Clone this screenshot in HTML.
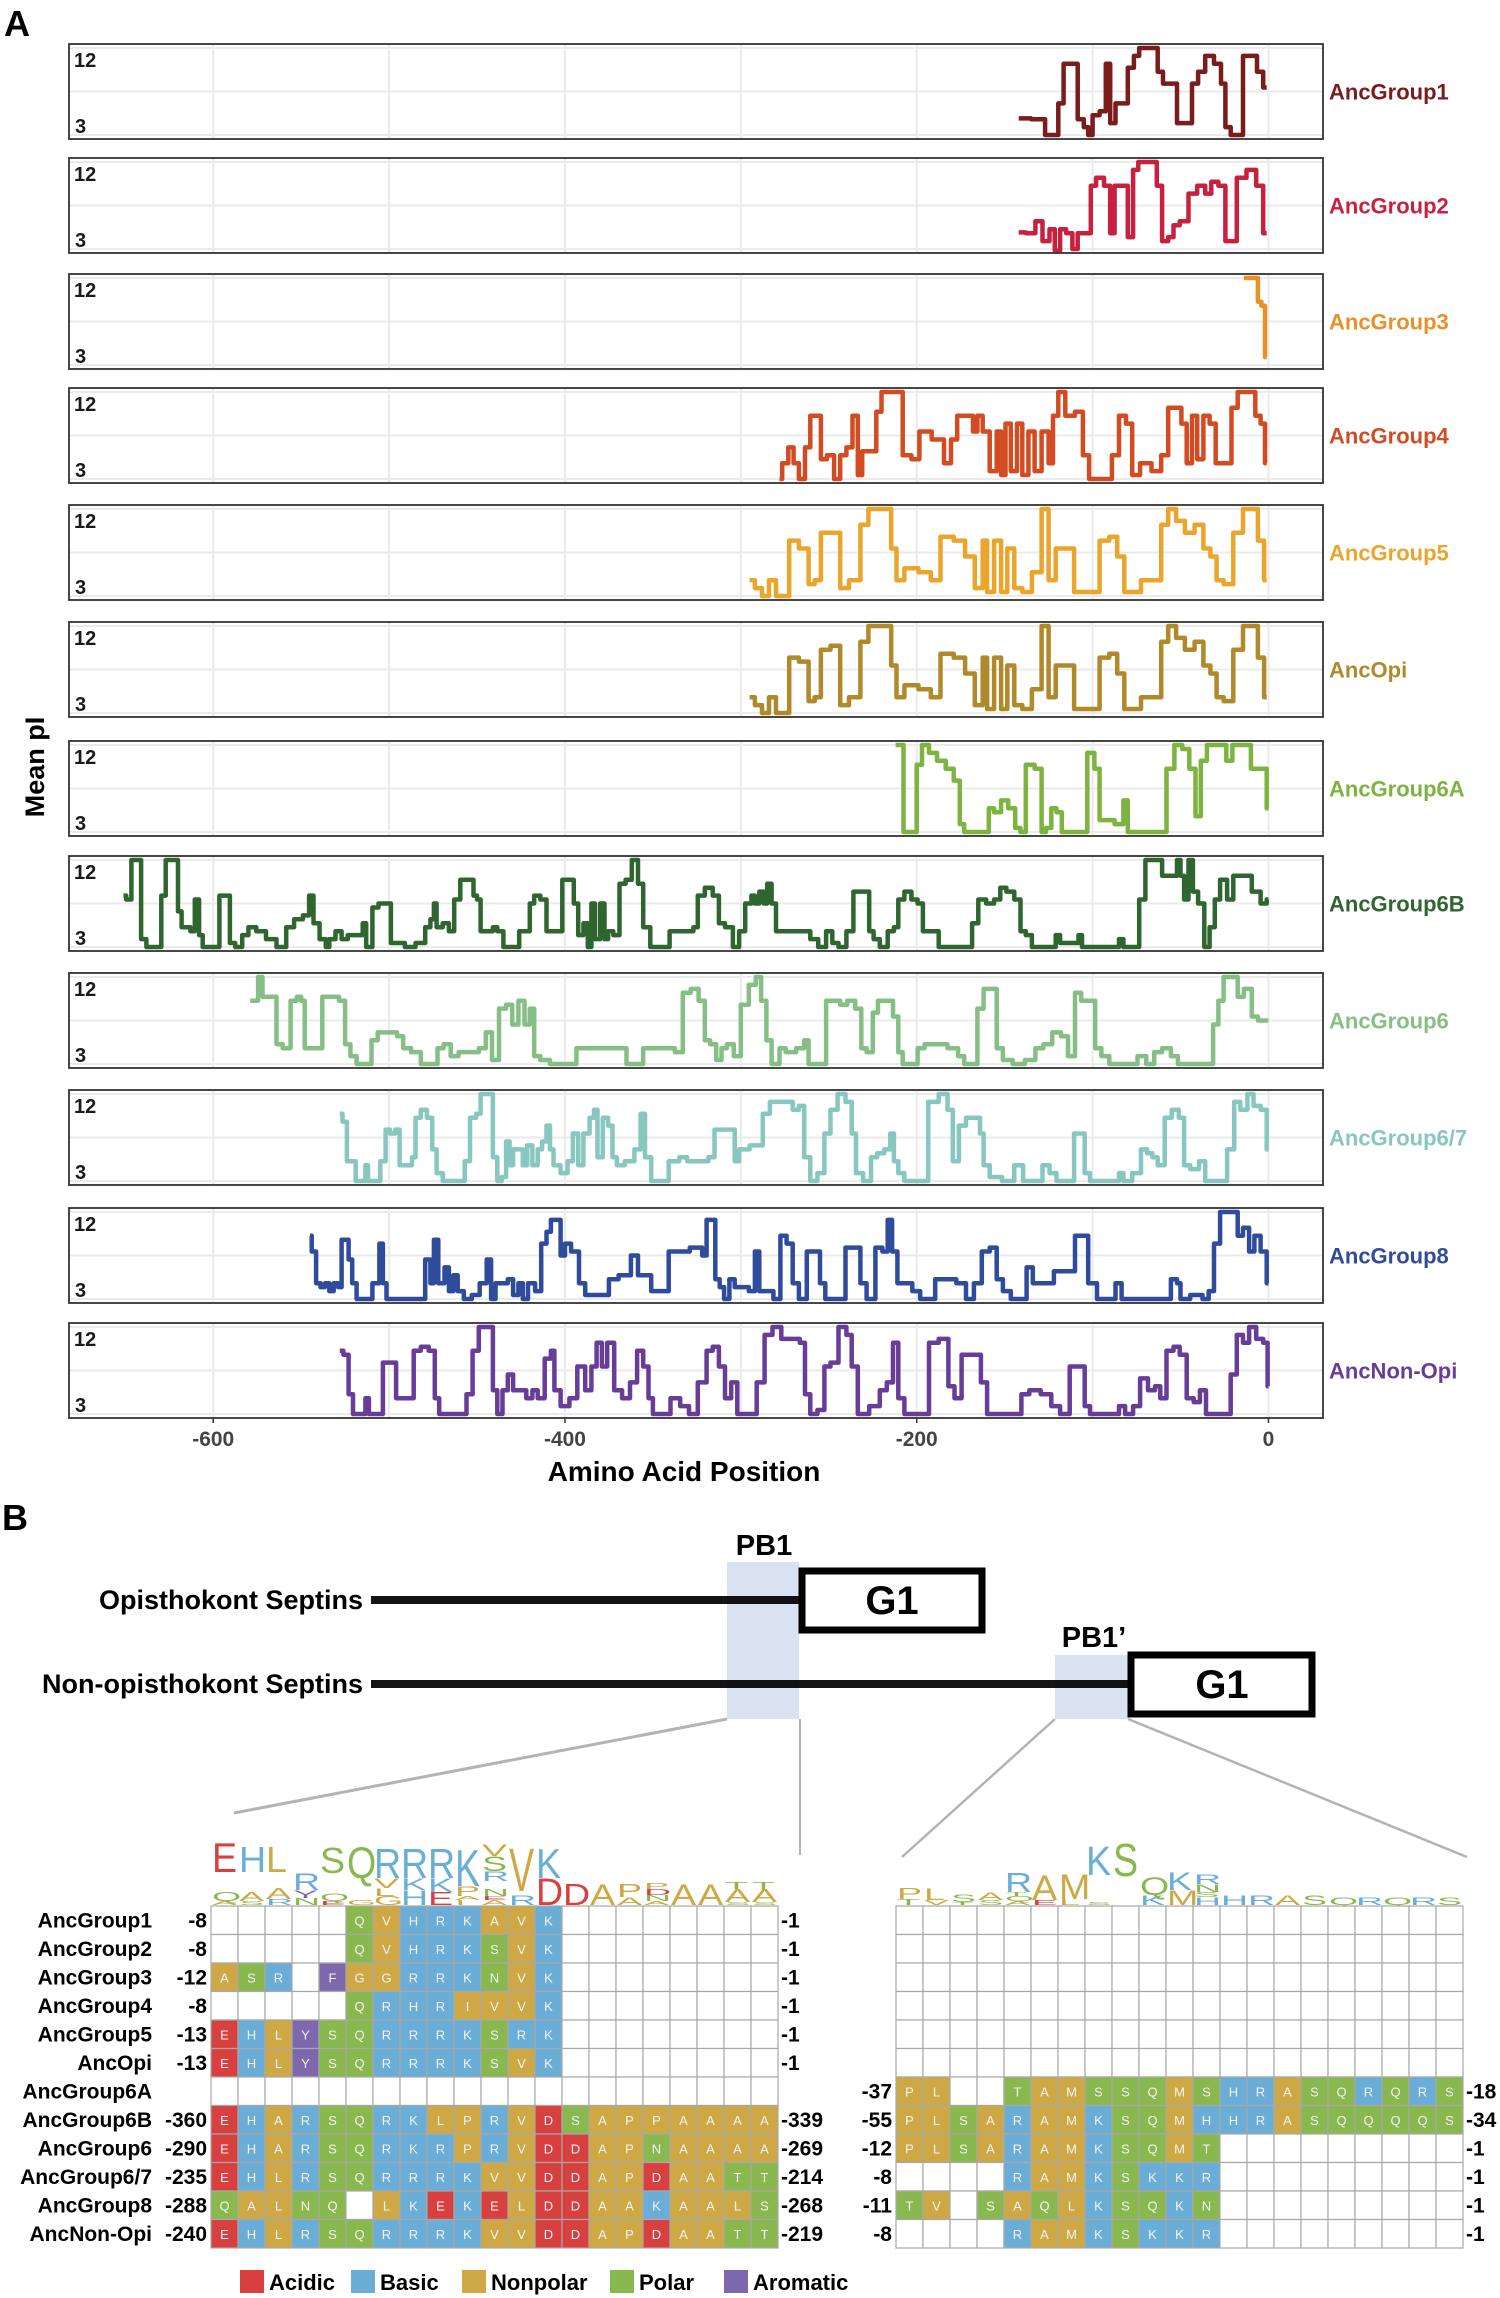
<!DOCTYPE html>
<html><head><meta charset="utf-8">
<style>
html,body{margin:0;padding:0;background:#fff;}
svg{display:block;font-family:"Liberation Sans",Arial,sans-serif;}
</style></head>
<body>
<svg id="fig" xmlns="http://www.w3.org/2000/svg" width="1500" height="2298" viewBox="0 0 1500 2298">
<rect x="0" y="0" width="1500" height="2298" fill="#fff"/>
<text x="4" y="36" font-size="36" font-weight="bold">A</text>
<g id="charts"></g>
<text transform="translate(44,767) rotate(-90)" text-anchor="middle" font-size="27" font-weight="bold">Mean pI</text>
<text x="684" y="1481" text-anchor="middle" font-size="28" font-weight="bold">Amino Acid Position</text>

<text x="2" y="1530" font-size="36" font-weight="bold">B</text>
<g>
<rect x="727" y="1562" width="72" height="157" fill="#d9e2f1"/>
<rect x="1055" y="1655" width="73" height="64" fill="#d9e2f1"/>
<text x="764" y="1555" text-anchor="middle" font-size="29" font-weight="bold">PB1</text>
<text x="1094" y="1647" text-anchor="middle" font-size="29" font-weight="bold">PB1’</text>
<text x="363" y="1609" text-anchor="end" font-size="27" font-weight="bold">Opisthokont Septins</text>
<rect x="371" y="1596" width="428" height="8" fill="#000" fill-opacity="0.92"/>
<rect x="802" y="1571" width="180" height="59" fill="#fff" stroke="#000" stroke-width="7"/>
<text x="892" y="1614" text-anchor="middle" font-size="40" font-weight="bold">G1</text>
<text x="363" y="1693" text-anchor="end" font-size="27" font-weight="bold">Non-opisthokont Septins</text>
<rect x="371" y="1680" width="757" height="8" fill="#000" fill-opacity="0.92"/>
<rect x="1131" y="1655" width="181" height="59" fill="#fff" stroke="#000" stroke-width="7"/>
<text x="1222" y="1698" text-anchor="middle" font-size="40" font-weight="bold">G1</text>
<line x1="727" y1="1719" x2="234" y2="1813" stroke="#b3b3b3" stroke-width="3"/>
<line x1="800" y1="1719" x2="800" y2="1855" stroke="#b3b3b3" stroke-width="2"/>
<line x1="1055" y1="1719" x2="902" y2="1857" stroke="#b3b3b3" stroke-width="2.5"/>
<line x1="1128" y1="1719" x2="1467" y2="1857" stroke="#b3b3b3" stroke-width="2.5"/>
</g>
<g id="align"></g>
<g id="legend"></g>
</svg>
<script>
// ===== Panel A data: [position, mean pI] =====
const seriesNames = ["AncGroup1","AncGroup2","AncGroup3","AncGroup4","AncGroup5","AncOpi","AncGroup6A","AncGroup6B","AncGroup6","AncGroup6/7","AncGroup8","AncNon-Opi"];
const seriesColors = ["#7a1c1c","#c8203f","#e8912b","#d24b22","#eaa52c","#b0892a","#7db43f","#2f6630","#86bf86","#88c6c0","#2f4b9c","#673d98"];
const ancGroup1 = [[-142,4.1],[-128,4],[-126,2],[-121,2],[-118,6],[-115,11],[-110,11],[-107,4],[-103,3],[-102,2],[-98,4.5],[-94,5],[-91,11],[-89,3.5],[-85,6],[-82,6],[-78,10.5],[-75,12],[-72,13],[-64,13],[-62,10],[-58,8.5],[-53,8.5],[-51,3.5],[-45,3.5],[-42,8.5],[-38,10],[-34,12],[-28,11],[-26,8.5],[-23,3],[-20,2],[-16,2],[-13,12],[-8,12],[-5,10],[-1,8]];
const ancGroup2 = [[-142,4.1],[-134,4],[-131,5.5],[-126,3],[-123,4.5],[-120,1.8],[-117,4.5],[-113,4],[-110,2],[-107,4],[-102,4],[-100,10],[-96,11],[-91,10],[-89,4],[-86,10],[-81,10],[-79,3.5],[-75,12],[-73,13],[-65,13],[-62,10],[-59,3],[-55,3.5],[-53,5],[-48,5.5],[-43,9],[-38,10],[-34,9],[-31,10.5],[-26,10],[-23,3],[-20,3],[-16,11],[-9,12],[-5,10],[-1,4]];
const ancGroup3 = [[-14,13],[-7,13],[-5,10],[-3,9.5],[-1,3]];
const ancGroup4 = [[-278,2],[-275,4],[-271,6],[-269,4],[-265,2],[-262,6],[-259,10],[-256,10],[-253,4.5],[-249,5],[-245,2],[-242,5],[-238,6],[-235,10],[-232,2.5],[-230,5.5],[-224,5.5],[-222,10.5],[-218,13],[-210,13],[-206,5],[-200,4.5],[-197,8],[-186,7],[-183,4],[-178,7],[-176,10],[-169,10],[-167,8],[-164,10],[-161,8],[-156,3],[-153,8],[-151,2.5],[-148,9],[-145,3],[-141,9],[-139,2.5],[-134,8],[-132,3],[-126,8],[-124,4],[-121,10],[-118,13],[-113,10],[-107,10.5],[-104,5],[-100,2],[-91,2],[-87,5],[-83,10],[-79,9],[-76,2.5],[-70,4],[-63,3],[-59,5],[-55,11],[-51,11],[-48,9],[-45,4],[-42,10],[-39,4.5],[-35,10],[-32,9],[-28,4],[-23,4],[-19,11],[-16,13],[-9,13],[-6,10],[-3,9],[-1,4]];
const ancGroup5 = [[-295,4],[-289,3],[-287,2],[-281,4],[-279,2],[-274,2],[-271,9],[-263,8],[-260,3.5],[-256,4],[-253,10],[-245,10],[-242,3],[-235,4],[-229,11],[-226,13],[-216,13],[-213,8],[-210,4],[-204,5.5],[-194,5],[-190,4],[-183,9.5],[-175,9],[-170,7],[-164,3],[-161,9],[-159,2.5],[-153,9],[-151,2.5],[-146,8],[-143,3],[-137,2.5],[-132,5],[-126,13],[-124,4],[-118,8],[-113,8],[-108,2.5],[-99,2.5],[-93,9],[-88,9.5],[-84,7],[-80,2.5],[-74,2.5],[-71,4],[-63,4],[-59,11],[-55,13],[-50,11.5],[-45,10],[-39,11],[-35,8],[-31,7],[-28,4],[-23,3.5],[-17,10],[-12,13],[-8,13],[-4,9],[-1,4]];
const ancOpi = [[-295,4],[-289,3],[-287,2],[-281,4],[-279,2],[-274,2],[-271,9],[-263,8.5],[-260,3.5],[-256,4],[-253,10],[-245,10.5],[-242,3],[-235,4],[-229,11],[-226,13],[-216,13],[-213,8],[-210,4],[-204,5.5],[-194,5],[-190,4],[-183,9.5],[-175,9],[-170,7],[-164,3],[-161,9],[-159,2.5],[-153,9],[-151,2.5],[-146,8],[-143,3],[-137,2.5],[-132,5],[-126,13],[-124,4],[-118,8],[-113,8],[-108,2.5],[-99,2.5],[-93,9],[-88,9.5],[-84,7],[-80,2.5],[-74,2.5],[-71,4],[-63,4],[-59,11],[-55,13],[-50,11.5],[-45,10],[-39,11],[-35,8],[-31,7],[-28,4],[-23,3.5],[-17,10],[-12,13],[-8,13],[-4,9],[-1,4]];
const ancGroup6A = [[-212,13],[-209,13],[-206,2],[-201,2],[-199,10.5],[-195,13],[-191,12],[-186,11],[-181,10],[-177,8.5],[-174,3],[-172,2],[-160,2],[-158,5],[-154,4.5],[-150,6],[-146,5],[-142,2.5],[-140,2],[-136,10.5],[-130,10],[-128,2],[-125,2.5],[-122,5],[-119,4.5],[-116,2],[-105,2],[-101,12],[-97,10],[-95,3.5],[-91,3.5],[-84,3],[-81,6],[-79,2],[-60,2],[-56,10],[-51,13],[-47,12.5],[-43,10],[-40,4],[-37,11],[-33,13],[-26,13],[-22,11],[-19,13],[-12,13],[-8,10],[-2,10],[0,5]];
const ancGroup6B = [[-651,8.5],[-648,8],[-645,13],[-642,13],[-640,3],[-636,2],[-631,2],[-628,8.5],[-626,13],[-621,13],[-619,6.5],[-617,4.5],[-614,4.5],[-612,4],[-609,8],[-607,3.5],[-605,2],[-598,2],[-595,8.5],[-592,8.5],[-589,2.5],[-586,2],[-581,3.5],[-579,4.5],[-572,4],[-568,3],[-560,2],[-557,4.5],[-551,5.5],[-547,6],[-544,8.5],[-542,5],[-537,3],[-535,2],[-533,3],[-528,4],[-526,3],[-521,3.5],[-516,3.5],[-514,5],[-512,2],[-507,7],[-505,7.5],[-500,7.5],[-498,2.5],[-493,2.5],[-489,2],[-481,2.5],[-478,4.5],[-475,5.5],[-474,7.5],[-472,4.5],[-467,5],[-465,4],[-461,8],[-458,10.5],[-453,10.5],[-451,8.5],[-449,8],[-447,4],[-442,4],[-440,4.5],[-437,4],[-433,2],[-428,2],[-424,4],[-421,4],[-419,7.5],[-416,8.5],[-412,8],[-409,4],[-403,4],[-400,10.5],[-396,10.5],[-394,7.5],[-391,3.5],[-388,5],[-386,2],[-384,7.5],[-382,3],[-378,7.5],[-377,3],[-374,4],[-371,3.5],[-367,10],[-364,10.5],[-360,13],[-357,10],[-354,4.5],[-349,2],[-342,2],[-339,4],[-336,4],[-328,4],[-326,4.5],[-323,8.5],[-318,9.5],[-314,8.5],[-311,5],[-307,4.5],[-302,2],[-300,4],[-295,7.5],[-293,8.5],[-291,7.5],[-288,9],[-286,7.5],[-284,10],[-281,7.5],[-279,4],[-274,4],[-268,4],[-263,4],[-258,3],[-254,2],[-249,4],[-247,2.5],[-242,2],[-238,4],[-234,9],[-228,9],[-226,4],[-223,3],[-219,2],[-214,4],[-212,4.5],[-209,8],[-205,9],[-201,8],[-198,7.5],[-195,4],[-189,4],[-186,2],[-170,2],[-167,5],[-163,8],[-158,7.5],[-154,8],[-151,9.5],[-147,9],[-142,8],[-140,4],[-136,3.5],[-133,2],[-122,2],[-120,3.5],[-117,2.5],[-109,2.5],[-107,3.5],[-105,2],[-86,2],[-84,3],[-81,2],[-75,2],[-72,8],[-68,13],[-63,13],[-58,11],[-53,11],[-51,13],[-49,11],[-47,8],[-44,13],[-42,9],[-38,7.5],[-35,2],[-32,4.5],[-29,8],[-26,10.5],[-21,8],[-19,11],[-12,11],[-7,9],[-2,7.5],[0,8]];
const ancGroup6 = [[-579,10],[-575,10],[-574,13],[-570,10.5],[-565,10.5],[-563,4.5],[-558,4],[-554,10],[-551,10.5],[-549,10],[-547,4],[-541,4],[-535,10.5],[-530,10.5],[-527,10],[-523,4.5],[-521,3],[-516,2],[-512,2],[-508,5],[-505,6],[-498,6],[-493,5.5],[-491,4],[-484,3.5],[-480,2],[-474,2],[-471,4],[-467,4.5],[-463,3],[-458,3.5],[-451,3.5],[-447,4],[-443,6],[-440,2.5],[-435,9],[-432,9.5],[-428,7],[-425,10],[-421,7],[-419,9],[-416,3],[-412,2.5],[-405,2],[-395,2],[-392,4],[-388,4],[-381,4],[-367,4],[-363,2],[-357,2],[-354,4],[-344,4],[-340,4],[-335,3.5],[-331,11],[-326,11.5],[-322,10],[-319,5],[-316,4.5],[-312,2.5],[-310,4],[-306,4.5],[-302,3],[-298,9.5],[-293,12],[-290,13],[-287,10],[-284,5],[-281,2],[-279,2],[-277,4],[-272,3.5],[-265,4],[-263,5],[-260,2],[-253,2],[-250,10],[-245,10],[-242,9.5],[-237,10],[-233,9],[-230,4],[-227,3.5],[-223,8.5],[-221,10],[-215,10],[-212,8],[-209,3.5],[-207,2],[-201,2],[-198,4],[-193,4.5],[-186,4.5],[-179,4],[-174,3],[-172,2],[-167,2],[-164,9],[-160,11.5],[-156,11.5],[-153,4],[-149,2.5],[-142,2],[-135,2.5],[-130,4],[-126,4.5],[-120,6],[-116,5.5],[-112,3],[-108,11],[-105,10],[-100,10],[-97,4],[-93,3],[-88,2],[-77,2],[-72,3],[-67,2],[-63,3.5],[-58,4],[-53,3],[-50,2],[-33,2],[-30,7],[-27,10],[-24,13],[-19,13],[-16,10.5],[-12,11.5],[-7,8],[-5,7.5],[0,7.5]];
const ancGroup67 = [[-528,10.5],[-525,9.5],[-523,4.5],[-520,4.5],[-518,2],[-514,2],[-513,4],[-511,2],[-507,2],[-503,4.5],[-501,8.5],[-498,8],[-495,8.5],[-493,4],[-488,4],[-486,5],[-484,10],[-480,11],[-477,10],[-474,6],[-472,3],[-467,2],[-458,2],[-456,4.5],[-452,10],[-449,10.5],[-447,13],[-442,13],[-440,5],[-437,2],[-435,2.5],[-432,7],[-431,4],[-428,6],[-425,6],[-423,4],[-420,6.5],[-417,4],[-414,6],[-412,7],[-409,9],[-408,6],[-405,4],[-400,3],[-397,4.5],[-394,8],[-391,4],[-388,8],[-384,10],[-383,11],[-380,5],[-377,10],[-374,9],[-372,5],[-369,4],[-363,4.5],[-358,6],[-356,10.5],[-353,5],[-349,2],[-342,2],[-340,4.5],[-337,4.5],[-333,5],[-328,4.5],[-321,4.5],[-316,5],[-314,8.5],[-305,8.5],[-302,4.5],[-300,6],[-290,6.5],[-285,10.5],[-282,12],[-273,12],[-268,11],[-266,11.5],[-262,5],[-259,2],[-254,3],[-251,8],[-247,11],[-243,13],[-238,12],[-236,8],[-233,3],[-228,2],[-224,5],[-221,5.5],[-216,6],[-214,8],[-212,4.5],[-209,3],[-205,2],[-196,2],[-191,12],[-184,13],[-181,11],[-178,4.5],[-174,9],[-170,10],[-165,10],[-163,8],[-161,4],[-156,2.5],[-147,2],[-142,4],[-137,2],[-130,2],[-127,4],[-122,3],[-119,2],[-112,2],[-109,8],[-106,8],[-103,3],[-100,2],[-86,2],[-84,3],[-81,2],[-74,3],[-71,6],[-67,5.5],[-65,5],[-61,4],[-57,10],[-53,11],[-49,10],[-47,4],[-42,3.5],[-37,4.5],[-35,2],[-26,2],[-21,6],[-18,12],[-14,11],[-10,13],[-7,11.5],[-2,11],[0,6]];
const ancGroup8 = [[-545,10],[-543,8],[-540,4],[-538,3.5],[-535,4],[-533,3],[-530,4],[-528,3.5],[-526,9.5],[-524,9.5],[-522,7],[-520,4],[-517,2],[-512,2],[-507,4],[-504,9],[-503,4],[-500,2],[-481,2],[-478,7],[-475,4],[-474,9.5],[-470,4],[-467,6],[-465,3],[-462,5],[-460,3],[-455,2],[-451,2.5],[-446,4],[-443,7],[-441,2],[-438,4],[-434,4],[-431,4.5],[-428,2.5],[-425,4],[-423,2],[-419,4],[-415,3],[-412,9],[-409,10.5],[-407,12],[-404,12],[-401,7.5],[-399,9],[-394,8],[-390,4],[-387,2.5],[-376,2.5],[-374,4.5],[-365,5],[-360,7.5],[-357,5],[-353,5],[-349,3],[-342,3],[-340,8],[-335,8],[-323,8.5],[-321,7.5],[-318,12],[-316,12],[-313,4.5],[-311,3.5],[-308,2],[-305,4.5],[-302,3.5],[-298,3.5],[-293,3],[-291,8],[-288,3],[-284,3],[-279,2],[-276,10],[-272,9],[-269,4],[-265,2],[-260,8],[-256,8],[-254,4],[-250,2],[-242,2],[-239,8.5],[-233,8.5],[-231,4],[-226,2],[-221,8.5],[-218,8],[-215,12],[-213,8],[-209,4],[-205,4],[-200,3],[-196,2],[-191,2],[-188,4.5],[-181,4.5],[-174,4],[-170,2],[-165,4],[-161,8],[-156,8.5],[-153,4.5],[-149,3],[-144,2],[-140,2],[-135,6],[-133,4],[-123,4],[-121,5.5],[-112,5.5],[-108,10],[-105,10],[-100,4],[-95,2],[-88,2],[-86,4],[-81,2],[-58,2],[-53,4.5],[-51,4],[-49,2],[-40,2.5],[-35,2],[-33,3],[-29,9],[-26,13],[-19,13],[-16,10],[-13,11],[-9,8],[-7,10],[-2,8],[0,4]];
const ancNonOpi = [[-528,10],[-524,9.5],[-522,4.5],[-519,2],[-514,2],[-513,4],[-510,2],[-505,2],[-502,8.5],[-498,8.5],[-494,4],[-488,4],[-484,10],[-480,10.5],[-475,10],[-473,4],[-470,2],[-458,2],[-454,4.5],[-451,10],[-447,13],[-442,13],[-440,5],[-437,2],[-434,5],[-431,7],[-428,5],[-424,5],[-420,4],[-417,5],[-414,4],[-409,9],[-407,10],[-405,5],[-400,3],[-395,4],[-391,8],[-386,5],[-384,8],[-380,11],[-378,8],[-374,11],[-370,5],[-365,4],[-361,6],[-357,10],[-354,8],[-351,4],[-349,2],[-342,2],[-338,4],[-331,3],[-328,2],[-321,6],[-318,10],[-314,10.5],[-311,8],[-307,4],[-304,6],[-300,2],[-293,2],[-289,6],[-284,12],[-280,13],[-274,11.5],[-268,11.5],[-265,11],[-262,4.5],[-259,2],[-254,2.5],[-251,8],[-247,8.5],[-242,13],[-238,12],[-236,8],[-231,2],[-223,3],[-219,5],[-215,6],[-212,11],[-209,4],[-205,2],[-195,2],[-191,11],[-184,11.5],[-180,5.5],[-177,4],[-172,9.5],[-165,9.5],[-162,6],[-158,2],[-142,2],[-139,4.5],[-133,5],[-126,4.5],[-121,3],[-116,2],[-110,8],[-106,8],[-103,3],[-100,2],[-86,2],[-84,3],[-79,2],[-75,3],[-71,6.5],[-66,5],[-63,5.5],[-60,4],[-56,10],[-52,10.5],[-49,9.5],[-44,4],[-41,3.5],[-37,5],[-34,2],[-23,2],[-20,7],[-16,12],[-13,11],[-9,13],[-5,11.5],[-1,11],[0,5.5]];
const seriesData = [ancGroup1,ancGroup2,ancGroup3,ancGroup4,ancGroup5,ancOpi,ancGroup6A,ancGroup6B,ancGroup6,ancGroup67,ancGroup8,ancNonOpi];
const xTicks = [-600,-400,-200,0];
const xGrid = [-600,-500,-400,-300,-200,-100,0];
const yDomain = [2,13];
const yTickLabels = ["12","3"];

// ===== Panel B alignment data =====
const leftRowNames = ["AncGroup1","AncGroup2","AncGroup3","AncGroup4","AncGroup5","AncOpi","AncGroup6A","AncGroup6B","AncGroup6","AncGroup6/7","AncGroup8","AncNon-Opi"];
const leftStart = ["-8","-8","-12","-8","-13","-13","","-360","-290","-235","-288","-240"];
const leftEnd = ["-1","-1","-1","-1","-1","-1","","-339","-269","-214","-268","-219"];
const leftSeqs = [
"     QVHRKAVK        ",
"     QVHRKSVK        ",
"ASR FGGRRKNVK        ",
"     QRHRIVVK        ",
"EHLYSQRRRKSRK        ",
"EHLYSQRRRKSVK        ",
"                     ",
"EHARSQRKLPRVDSAPPAAAA",
"EHARSQRKRPRVDDAPNAAAA",
"EHLRSQRRRKVVDDAPDAATT",
"QALNQ LKEKELDDAAKAALS",
"EHLRSQRRRKVVDDAPDAATT"];
const rightStart = ["","","","","","","-37","-55","-12","-8","-11","-8"];
const rightEnd = ["","","","","","","-18","-34","-1","-1","-1","-1"];
const rightSeqs = [
"                     ","                     ","                     ",
"                     ","                     ","                     ",
"PL  TAMSSQMSHRASQRQRS",
"PLSARAMKSQMHHRASQQQQS",
"PLSARAMKSQMT         ",
"    RAMKSKKR         ",
"TV SAQLKSQKN         ",
"    RAMKSKKR         "];
const leftLogo = [
 [["A",4],["Q",9],[" ",20],["E",30]],
 [["S",4],["A",9],[" ",20],["H",26]],
 [["R",6],["A",11],[" ",16],["L",26]],
 [["N",7],["Y",8],["R",17]],
 [["E",4],["Q",8],[" ",20],["S",26]],
 [["G",5],[" ",22],["Q",32]],
 [["G",9],["L",8],["V",10],["R",30]],
 [["H",15],["K",12],["R",30]],
 [["E",13],["K",14],["R",30]],
 [["I",5],["A",4],["P",10],["K",37]],
 [["A",5],["E",4],["N",7],[" ",8],["R",10],["S",15],["V",12]],
 [["R",10],[" ",4],["V",44]],
 [["D",27],["K",30]],
 [["D",22]],
 [["A",21]],
 [["A",8],["P",13]],
 [["A",4],["N",6],["D",6],["P",6]],
 [["A",21]],
 [["A",21]],
 [["S",3],["A",13],["T",7]],
 [["S",3],["A",13],["T",7]]];
const rightLogo = [
 [["T",6],["P",11]],
 [["V",5],["L",12]],
 [["T",3],["S",8]],
 [["S",5],["A",8]],
 [["A",4],["Q",5],["T",4],["R",20]],
 [["E",5],["A",25]],
 [["L",6],["M",25]],
 [["S",3],[" ",27],["K",29]],
 [[" ",29],["S",33]],
 [["K",10],["Q",18]],
 [["M",15],["K",18]],
 [["H",8],["S",5],["N",8],["R",10]],
 [["H",10]],[["R",10]],[["A",10]],[["S",10]],[["Q",8]],[["R",8]],[["Q",8]],[["R",8]],[["S",8]]];
const legendLabels = ["Acidic","Basic","Nonpolar","Polar","Aromatic"];
const classColors = {Acidic:"#d8403f",Basic:"#6aaed8",Nonpolar:"#cea844",Polar:"#89b84f",Aromatic:"#7d68ad"};

const NS="http://www.w3.org/2000/svg";
function mk(tag,attrs,parent){const e=document.createElementNS(NS,tag);for(const k in attrs)e.setAttribute(k,attrs[k]);if(parent)parent.appendChild(e);return e;}
function aaClass(c){if("DE".includes(c))return "Acidic";if("RKH".includes(c))return "Basic";if("FYW".includes(c))return "Aromatic";if("STNQC".includes(c))return "Polar";return "Nonpolar";}

// ---- Panel A ----
const charts=document.getElementById('charts');
const PX0=69, PX1=1323, PH=95;
const panelTops=[44,158,274,388,505,622,741,856,973,1090,1208,1323];
const xDom=[-682,31];
function xs(u){return PX0+(u-xDom[0])/(xDom[1]-xDom[0])*(PX1-PX0);}
seriesNames.forEach((name,i)=>{
  const top=panelTops[i];
  const ys=v=>top+4+(yDomain[1]-v)/(yDomain[1]-yDomain[0])*(PH-8);
  const g=mk('g',{},charts);
  
  
  mk('rect',{x:PX0,y:top,width:PX1-PX0,height:PH,fill:'#fff'},g);
  xGrid.forEach(u=>{const l=mk('line',{x1:xs(u),x2:xs(u),y1:top,y2:top+PH,stroke:'#ebebeb','stroke-width':2},g);
    });
  [yDomain[1],(yDomain[0]+yDomain[1])/2,yDomain[0]].forEach(v=>{const l=mk('line',{x1:PX0,x2:PX1,y1:ys(v),y2:ys(v),stroke:'#ebebeb','stroke-width':2},g);
    });
  const t1=mk('text',{x:PX0+5,y:top+23,'font-size':20,'font-weight':'bold',fill:'#1a1a1a'},g);t1.textContent=yTickLabels[0];
  
  const t2=mk('text',{x:PX0+6,y:top+PH-6,'font-size':20,'font-weight':'bold',fill:'#1a1a1a'},g);t2.textContent=yTickLabels[1];
  
  // mid-step rendering
  const d=seriesData[i];
  let pts=[[xs(d[0][0]),ys(d[0][1])]];
  for(let k=1;k<d.length;k++){
    const xm=(xs(d[k-1][0])+xs(d[k][0]))/2;
    pts.push([xm,ys(d[k-1][1])]);
    pts.push([xm,ys(d[k][1])]);
  }
  pts.push([xs(d[d.length-1][0]),ys(d[d.length-1][1])]);
  const pl=mk('polyline',{points:pts.map(p=>p[0].toFixed(1)+','+p[1].toFixed(1)).join(' '),fill:'none',stroke:seriesColors[i],'stroke-width':4.5,'stroke-linejoin':'round'},g);
  
  mk('rect',{x:PX0,y:top,width:PX1-PX0,height:PH,fill:'none',stroke:'#333','stroke-width':1.8},g);
  const lb=mk('text',{x:PX1+6,y:top+PH/2+8,'font-size':22,'font-weight':'bold',fill:seriesColors[i]},g);lb.textContent=name;
  
});
xTicks.forEach(u=>{
  const tk=mk('line',{x1:xs(u),x2:xs(u),y1:1418,y2:1423,stroke:'#333','stroke-width':1.5},charts);
  
  const t=mk('text',{x:xs(u),y:1446,'text-anchor':'middle','font-size':21,'font-weight':'bold',fill:'#444'},charts);t.textContent=String(u);
  
});

// ---- Panel B alignments ----
const align=document.getElementById('align');
const CW=27, RH=28.5, GY=1906;
function drawLogo(stacks,x0,name){
  const g=mk('g',{},align);
  
  stacks.forEach((st,c)=>{
    let base=GY-1;
    st.forEach(([ch,h])=>{
      if(ch!==" "){
        const sx=(CW-2)/13.3, sy=h/14.3;
        const t=mk('text',{transform:`translate(${x0+c*CW+1},${base}) scale(${sx.toFixed(3)},${sy.toFixed(3)})`,'font-size':20,fill:classColors[aaClass(ch)]},g);
        t.textContent=ch;
        
      }
      base-=h;
    });
  });
}
function drawGrid(seqs,x0,name){
  const g=mk('g',{},align);
  
  seqs.forEach((s,r)=>{
    for(let c=0;c<21;c++){
      const ch=s[c]||" ";
      const fill=ch===" "?"#fff":classColors[aaClass(ch)];
      const rc=mk('rect',{x:x0+c*CW,y:GY+r*RH,width:CW,height:RH,fill:fill,stroke:'#a8a8a8','stroke-width':1.2},g);
      
      if(ch!==" "){
        const t=mk('text',{x:x0+c*CW+CW/2,y:GY+r*RH+RH/2+5,'text-anchor':'middle','font-size':13,fill:'#f4f4f4'},g);
        t.textContent=ch;
        
      }
    }
  });
}
drawLogo(leftLogo,211,'pb1-sequence-logo');
drawLogo(rightLogo,896,'pb1-prime-sequence-logo');
drawGrid(leftSeqs,211,'pb1-alignment-grid');
drawGrid(rightSeqs,896,'pb1-prime-alignment-grid');
leftRowNames.forEach((n,r)=>{
  const cy=GY+r*RH+RH/2+7;
  const t=mk('text',{x:152,y:cy,'text-anchor':'end','font-size':21,'font-weight':'bold'},align);t.textContent=n;
  
  if(leftStart[r]){const a=mk('text',{x:207,y:cy,'text-anchor':'end','font-size':21,'font-weight':'bold'},align);a.textContent=leftStart[r];
    }
  if(leftEnd[r]){const b=mk('text',{x:781,y:cy,'font-size':21,'font-weight':'bold'},align);b.textContent=leftEnd[r];
    }
  if(rightStart[r]){const a=mk('text',{x:892,y:cy,'text-anchor':'end','font-size':21,'font-weight':'bold'},align);a.textContent=rightStart[r];
    }
  if(rightEnd[r]){const b=mk('text',{x:1466,y:cy,'font-size':21,'font-weight':'bold'},align);b.textContent=rightEnd[r];
    }
});

// ---- Legend ----
const legend=document.getElementById('legend');
const legX=[240,351,462,610,724];
legendLabels.forEach((lab,i)=>{
  const g=mk('g',{},legend);
  
  const sw=mk('rect',{x:legX[i],y:2270,width:24,height:23,fill:classColors[lab]},g);
  
  const t=mk('text',{x:legX[i]+29,y:2290,'font-size':22,'font-weight':'bold'},g);t.textContent=lab;
  
});
</script>
</body></html>
